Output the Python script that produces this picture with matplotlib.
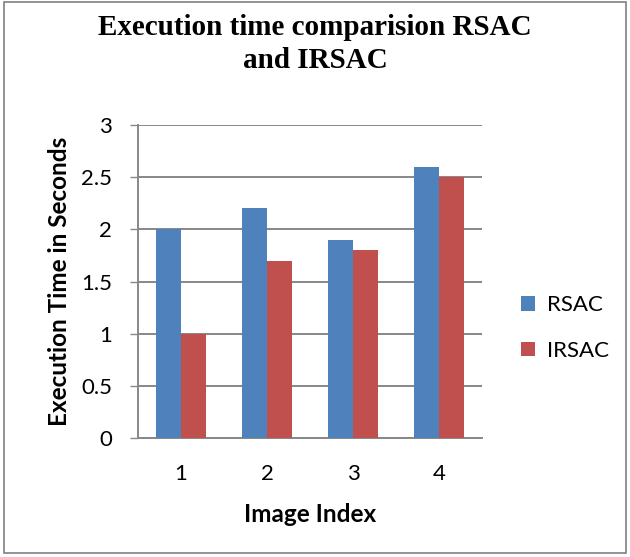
import numpy as np
import matplotlib
matplotlib.use("Agg")
import matplotlib.pyplot as plt
from matplotlib.patches import Rectangle

categories = ['1', '2', '3', '4']
rsac = [2.0, 2.2, 1.9, 2.6]
irsac = [1.0, 1.7, 1.8, 2.5]

blue = '#4F81BD'
red = '#C0504D'
grid_col = '#878787'

fig = plt.figure(figsize=(6.3, 5.57), dpi=100)
W, H = 630, 557
ax = fig.add_axes([138 / W, 1 - 438 / H, 344 / W, 313 / H])

x = np.arange(len(categories))
bw = 0.2857
ax.bar(x - bw / 2, rsac, bw, color=blue, label='RSAC', zorder=3)
ax.bar(x + bw / 2, irsac, bw, color=red, label='IRSAC', zorder=3)

ax.set_xlim(-0.5, 3.5)
ax.set_ylim(0, 3)
ax.set_yticks([0, 0.5, 1, 1.5, 2, 2.5, 3])
ax.set_yticklabels(['0', '0.5', '1', '1.5', '2', '2.5', '3'])
ax.set_xticks(x)
ax.set_xticklabels(categories)
ax.yaxis.grid(True, color=grid_col, linewidth=1.4, zorder=0)
ax.tick_params(axis='y', length=5.8, width=1.0, color=grid_col, pad=13, labelsize=16)
ax.tick_params(axis='x', length=0, pad=19, labelsize=16)
for lab in ax.get_xticklabels() + ax.get_yticklabels():
    lab.set_family('Lato')
for s in ['top', 'right']:
    ax.spines[s].set_visible(False)
for s in ['left', 'bottom']:
    ax.spines[s].set_color(grid_col)
    ax.spines[s].set_linewidth(1.4)

fig.text(315 / W, 1 - 44 / H, 'Execution time comparision RSAC\nand IRSAC',
         ha='center', va='center', family='Liberation Serif', weight='bold',
         fontsize=21, linespacing=1.25)
fig.text(60 / W, 1 - 281 / H, 'Execution Time in Seconds', rotation=90,
         ha='center', va='center', family='Lato', weight='bold', fontsize=17.5)
fig.text(310 / W, 1 - 514 / H, 'Image Index', ha='center', va='center',
         family='Lato', weight='bold', fontsize=17.5)

leg = fig.legend(loc='center left', bbox_to_anchor=(501 / W, 1 - 328 / H),
                 frameon=False, prop={'family': 'Lato', 'size': 16},
                 handlelength=0.65, handleheight=0.65, handletextpad=0.5,
                 labelspacing=1.15)

fig.patches.append(Rectangle((4 / W, 4 / H), 622 / W, 551 / H,
                             transform=fig.transFigure, fill=False,
                             edgecolor='#808080', linewidth=1.2))

fig.savefig('out.png', dpi=100)
